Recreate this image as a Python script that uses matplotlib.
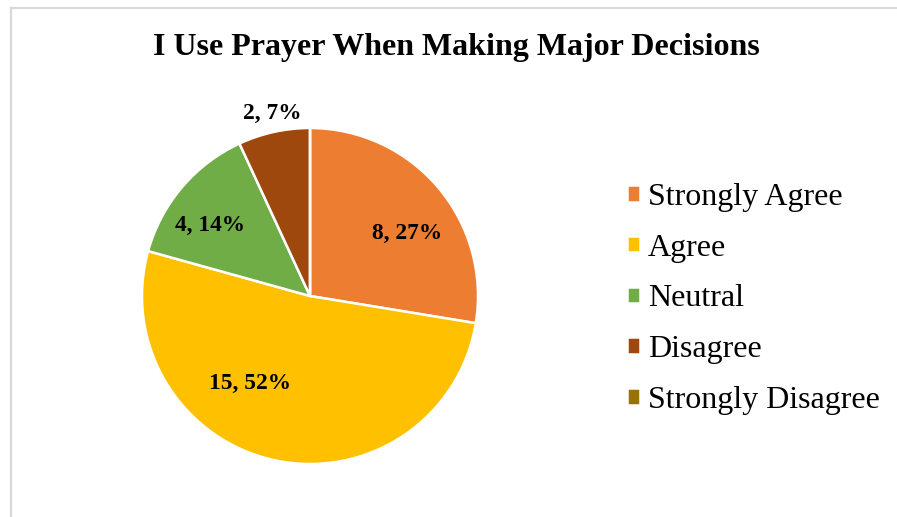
import matplotlib.pyplot as plt
from matplotlib.lines import Line2D

# data
categories = ["Strongly Agree", "Agree", "Neutral", "Disagree", "Strongly Disagree"]
counts = [8, 15, 4, 2, 0]
pct_labels = ["27%", "52%", "14%", "7%", ""]
colors = ["#ED7D31", "#FFC000", "#70AD47", "#9E480E", "#997300"]

# label spots (in pie radius units)
label_pos = [(0.577, 0.375), (-0.357, -0.518), (-0.595, 0.417), (-0.226, 1.089)]

plt.rcParams['font.family'] = ['Liberation Serif', 'DejaVu Serif']

W, H = 897, 517
fig = plt.figure(figsize=(W / 100, H / 100), dpi=100)

# light grey chart frame (only top and left edges are in view)
fx, fy = 10.5 / W, (H - 7.5) / H
fig.add_artist(Line2D([fx, 1.01], [fy, fy], transform=fig.transFigure,
                      color="#D9D9D9", linewidth=1.6))
fig.add_artist(Line2D([fx, fx], [-0.01, fy], transform=fig.transFigure,
                      color="#D9D9D9", linewidth=1.6))

cx, cy, r = 310, H - 296, 168
ax = fig.add_axes([(cx - r) / W, (cy - r) / H, 2 * r / W, 2 * r / H])
wedges, _ = ax.pie(counts, colors=colors, startangle=90, counterclock=False,
                   radius=1, wedgeprops=dict(edgecolor="white", linewidth=1.8))
ax.set_xlim(-1, 1)
ax.set_ylim(-1, 1)
ax.set_aspect('equal')
ax.axis('off')

for (x, y), n, p in zip(label_pos, counts, pct_labels):
    ax.text(x, y, f"{n}, {p}", ha='center', va='center', fontsize=16.8,
            fontweight='bold', clip_on=False)

fig.text(456 / W, (H - 48) / H, "I Use Prayer When Making Major Decisions",
         ha='center', va='center', fontsize=23, fontweight='bold')

leg = fig.legend(wedges, categories, loc='upper left',
                 bbox_to_anchor=(614 / W, (H - 170) / H), frameon=False,
                 fontsize=23, handlelength=0.42, handleheight=0.42,
                 handletextpad=0.25, labelspacing=0.68, borderaxespad=0)

fig.savefig("out.png", dpi=100)
